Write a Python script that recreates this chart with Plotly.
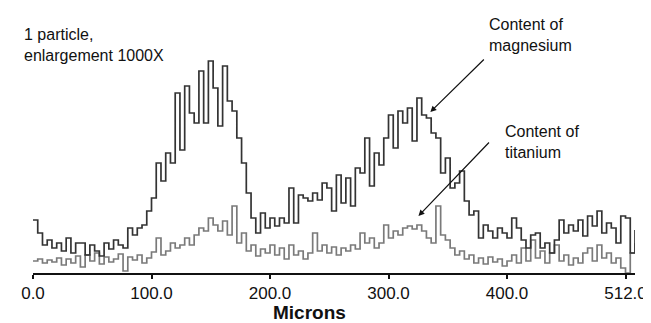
import numpy as np
import plotly.graph_objects as go

# Position along the scan (microns), one value every 4 microns
step = 4
magnesium = [53, 40, 28, 33, 25, 30, 22, 35, 20, 30,
             30, 18, 28, 22, 17, 30, 24, 33, 28, 25,
             45, 38, 45, 48, 62, 75, 110, 92, 120, 110,
             180, 123, 187, 160, 150, 202, 150, 212, 185, 147,
             207, 172, 162, 135, 110, 80, 55, 40, 60, 45,
             55, 47, 55, 50, 85, 50, 78, 75, 72, 80,
             73, 90, 85, 62, 98, 70, 95, 67, 105, 100,
             135, 87, 120, 108, 135, 158, 125, 162, 150, 165,
             132, 175, 158, 155, 140, 135, 100, 115, 85, 90,
             102, 72, 58, 62, 35, 48, 42, 35, 45, 40,
             35, 55, 45, 33, 25, 38, 40, 25, 30, 20,
             33, 53, 40, 48, 42, 53, 37, 57, 47, 62,
             40, 50, 45, 30, 57, 55, 20, 43]
titanium = [12, 14, 10, 13, 11, 15, 8, 14, 10, 17,
            6, 18, 12, 20, 9, 16, 11, 14, 19, 2,
            16, 13, 18, 10, 15, 21, 35, 18, 22, 30,
            25, 28, 35, 28, 38, 45, 42, 55, 48, 42,
            52, 38, 67, 30, 40, 22, 28, 17, 24, 20,
            28, 18, 25, 14, 28, 18, 22, 14, 20, 40,
            22, 28, 20, 26, 18, 25, 22, 28, 24, 40,
            30, 35, 25, 30, 48, 35, 42, 38, 45, 47,
            44, 48, 42, 35, 30, 67, 38, 33, 25, 18,
            22, 14, 18, 10, 15, 9, 16, 11, 14, 7,
            12, 18, 10, 25, 12, 33, 15, 22, 10, 20,
            28, 12, 18, 8, 15, 10, 20, 25, 12, 28,
            15, 20, 10, 15, 5, 0, 20, 30]
microns = np.arange(len(magnesium)) * step

tick_vals = [0, 100, 200, 300, 400, 500]
tick_text = ["0.0", "100.0", "200.0", "300.0", "400.0", "512.0"]

fig = go.Figure()
fig.add_trace(go.Scatter(x=microns, y=titanium, mode="lines", line_shape="hv",
                         line=dict(color="#7a7a7a", width=1.7), name="Titanium"))
fig.add_trace(go.Scatter(x=microns, y=magnesium, mode="lines", line_shape="hv",
                         line=dict(color="#333333", width=1.7), name="Magnesium"))

L, R, T, B = 25, 20, 36, 58
W, H = 651, 323
pw, ph = W - L - R, H - T - B
XMAX, YMAX = 508, 229
FAM = "Liberation Sans, Arial, sans-serif"


def px2paper(px, py):
    return (px - L) / pw, (H - B - py) / ph


font = dict(family=FAM, size=16, color="#111")

# text labels
x0, y0 = px2paper(14, 37)
fig.add_annotation(text="1 particle,<br>enlargement 1000X", xref="paper", yref="paper",
                   x=x0, y=y0, xanchor="left", yanchor="middle", align="left",
                   showarrow=False, font=font)
x1, y1 = px2paper(482, 27)
fig.add_annotation(text="Content of<br>magnesium", xref="paper", yref="paper",
                   x=x1, y=y1, xanchor="left", yanchor="middle", align="left",
                   showarrow=False, font=font)
x2, y2 = px2paper(498, 134)
fig.add_annotation(text="Content of<br>titanium", xref="paper", yref="paper",
                   x=x2, y=y2, xanchor="left", yanchor="middle", align="left",
                   showarrow=False, font=font)

# axis title
xt, yt = px2paper(303, 304)
fig.add_annotation(text="<b>Microns</b>", xref="paper", yref="paper", x=xt, y=yt,
                   xanchor="center", yanchor="middle", showarrow=False,
                   font=dict(family=FAM, size=19, color="#111"))

# arrows
for tip, tail in [((425, 104), (480, 50)), ((413, 208), (485, 133))]:
    tx, ty = px2paper(*tip)
    fig.add_annotation(text="", xref="paper", yref="paper", x=tx, y=ty,
                       ax=tail[0] - tip[0], ay=tail[1] - tip[1],
                       showarrow=True, arrowhead=2, arrowsize=1, arrowwidth=1.2,
                       arrowcolor="#111")

fig.update_layout(
    width=W, height=H,
    margin=dict(l=L, r=R, t=T, b=B),
    plot_bgcolor="white", paper_bgcolor="white",
    showlegend=False,
    xaxis=dict(range=[0, XMAX], tickvals=tick_vals, ticktext=tick_text,
               showgrid=False, zeroline=False, showline=True, linecolor="#111",
               linewidth=1.5, ticks="outside", ticklen=4, tickwidth=2, tickcolor="#111",
               tickfont=dict(family=FAM, size=17, color="#111")),
    yaxis=dict(range=[0, YMAX], visible=False),
)

fig.write_html("out.html")
